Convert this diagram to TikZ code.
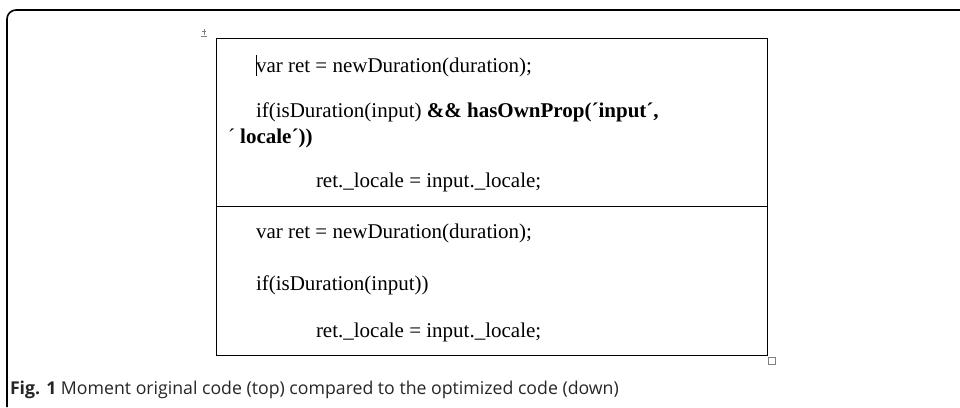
\documentclass[tikz,border=0pt]{standalone}
\usepackage{fontspec}
\setmainfont{Liberation Serif}
\newfontfamily\capfont{Open Sans}
\usetikzlibrary{positioning}

\begin{document}
\begin{tikzpicture}[x=1pt,y=-1pt]
	\tikzset{every node/.style={inner sep=0pt,outer sep=0pt}}
	\tikzset{code line/.style={anchor=base west,font=\fontsize{21}{25}\selectfont}}
	\tikzset{caption text/.style={anchor=base west,text=black!85,font=\capfont\fontsize{17.7}{21}\selectfont}}
	\useasboundingbox (0,0) rectangle (960,407);
	% outer frame
	\draw[line width=1.6pt,rounded corners=9pt] (7,407) -- (7,10) -- (960,10);
	% table
	\coordinate (tl) at (216,38);
	\coordinate (br) at (767,355);
	\draw[line width=0.9pt] (tl) rectangle (br);
	\draw[line width=0.9pt] (216,206) -- (767,206);
	\draw[gray,line width=0.5pt] (201,36) -- (207,36) (204,29) -- (204,35) (202,31) -- (206,31);
	\draw[gray,line width=0.5pt] (768,357) rectangle (775,364);
	% original code
	\node[code line] (oldvar) at (256,72) {var ret = newDuration(duration);};
	\draw[line width=0.4pt] (256,55) -- (256,76);
	\node[code line] (oldif) at (256,117) {if(isDuration(input) \textbf{\&\& hasOwnProp(´input´,}};
	\node[code line] (oldloc) at (228,143) {´ \textbf{locale´))}};
	\node[code line] (oldret) at (316,187) {ret.\_locale = input.\_locale;};
	% optimized code
	\node[code line] (newvar) at (256,238) {var ret = newDuration(duration);};
	\node[code line] (newif) at (256,290) {if(isDuration(input))};
	\node[code line] (newret) at (316,337) {ret.\_locale = input.\_locale;};
	% caption
	\node[caption text] (caption) at (10,394) {\textbf{Fig. 1} Moment original code (top) compared to the optimized code (down)};
\end{tikzpicture}
\end{document}
